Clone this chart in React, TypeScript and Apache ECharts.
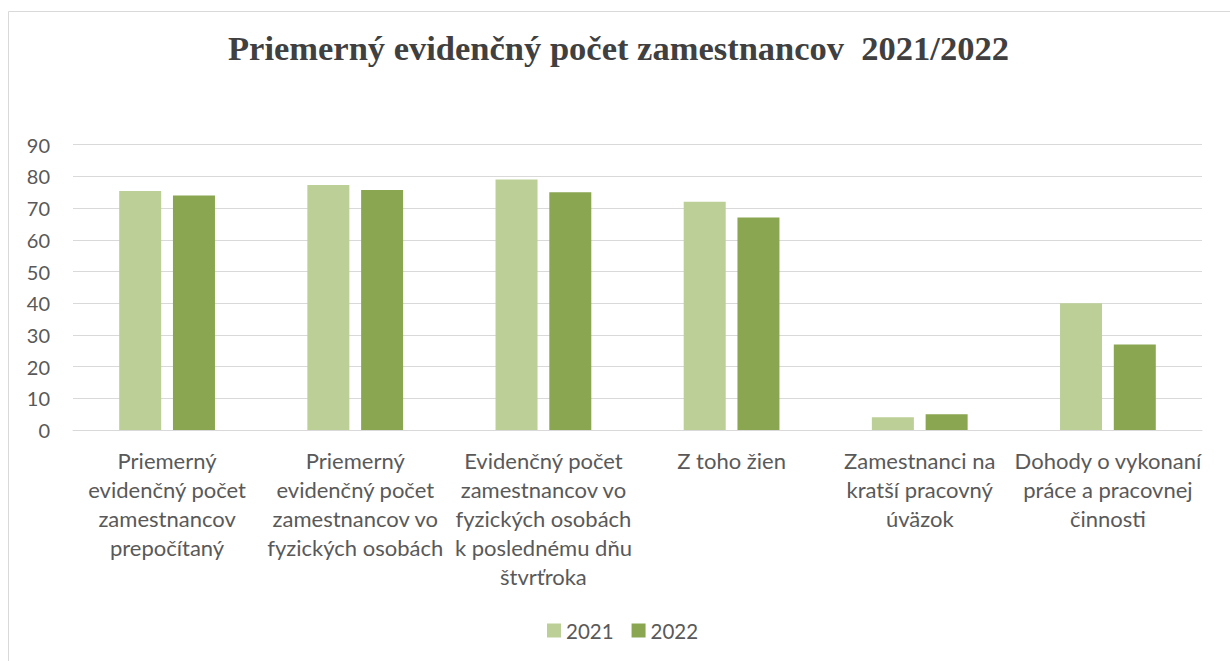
import React, { useEffect, useRef } from "react";
import * as echarts from "echarts";

const categories = [
  "Priemerný\nevidenčný počet\nzamestnancov\nprepočítaný",
  "Priemerný\nevidenčný počet\nzamestnancov vo\nfyzických osobách",
  "Evidenčný počet\nzamestnancov vo\nfyzických osobách\nk poslednému dňu\nštvrťroka",
  "Z toho žien",
  "Zamestnanci na\nkratší pracovný\núväzok",
  "Dohody o vykonaní\npráce a pracovnej\nčinnosti",
];
const values2021 = [75.4, 77.3, 79, 72, 4, 40];
const values2022 = [74, 75.7, 75, 67, 5, 27];
const seriesNames = ["2021", "2022"];
const titleText = "Priemerný evidenčný počet zamestnancov  2021/2022";

export default function App() {
  const ref = useRef<HTMLDivElement>(null);
  useEffect(() => {
    if (!ref.current) return;
    const chart = echarts.init(ref.current, null, { renderer: "svg" });
    const labelFont = "Lato, 'Open Sans', sans-serif";
    chart.setOption({
      animation: false,
      backgroundColor: "#ffffff",
      title: {
        text: titleText,
        left: 228,
        top: 30,
        padding: 0,
        textStyle: {
          fontFamily: "'Liberation Serif', 'Times New Roman', serif",
          fontWeight: "bold",
          fontSize: 34.5,
          color: "#404040",
        },
      },
      graphic: [
        {
          type: "rect",
          shape: { x: 8.5, y: 11.5, width: 1400, height: 900 },
          style: { fill: "none", stroke: "#d9d9d9", lineWidth: 1 },
          silent: true,
        },
      ],
      legend: {
        data: seriesNames,
        top: 620,
        left: 547,
        padding: 0,
        icon: "rect",
        itemWidth: 14,
        itemHeight: 14,
        itemGap: 18,
        textStyle: { fontFamily: labelFont, fontSize: 20.5, color: "#595959" },
      },
      grid: { left: 73, right: 28, top: 144.7, bottom: 231, containLabel: false },
      xAxis: {
        type: "category",
        data: categories,
        axisLine: { show: true, lineStyle: { color: "#d9d9d9", width: 1 } },
        axisTick: { show: false },
        axisLabel: {
          interval: 0,
          margin: 16,
          fontFamily: labelFont,
          fontSize: 22,
          lineHeight: 29,
          color: "#595959",
          align: "center",
        },
      },
      yAxis: {
        type: "value",
        min: 0,
        max: 90,
        interval: 10,
        axisLine: { show: false },
        axisTick: { show: false },
        splitLine: { lineStyle: { color: "#d9d9d9", width: 1 } },
        axisLabel: {
          margin: 23,
          fontFamily: labelFont,
          fontSize: 20,
          color: "#595959",
        },
      },
      series: [
        {
          name: seriesNames[0],
          type: "bar",
          data: values2021,
          barWidth: 42,
          barGap: "28%",
          itemStyle: { color: "#bbcf96" },
        },
        {
          name: seriesNames[1],
          type: "bar",
          data: values2022,
          barWidth: 42,
          barGap: "28%",
          itemStyle: { color: "#8aa650" },
        },
      ],
    });
    return () => chart.dispose();
  }, []);
  return (
    <div
      ref={ref}
      style={{ position: "absolute", left: 0, top: 0, width: 1230, height: 661 }}
    />
  );
}
